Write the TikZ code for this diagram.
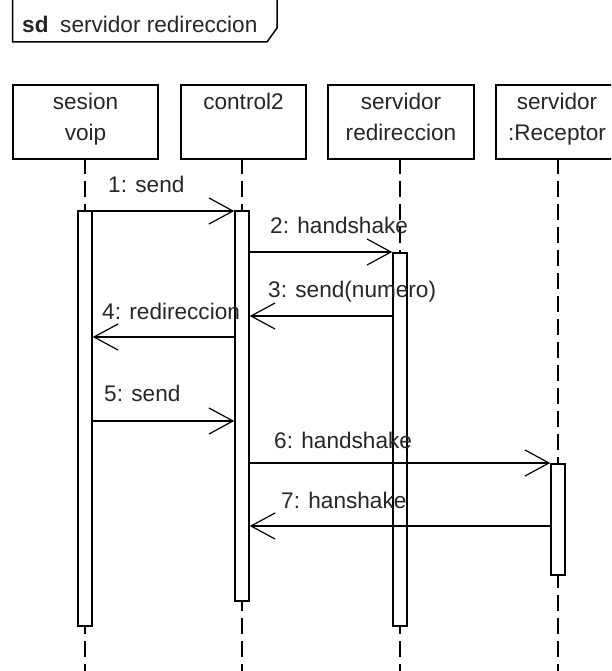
\documentclass[tikz,border=0pt]{standalone}
\usepackage{fontspec}
\setmainfont{Liberation Sans}
\usetikzlibrary{arrows.meta}
\begin{document}
\begin{tikzpicture}[x=1pt,y=-1pt,
  every node/.style={font=\fontsize{22.6}{26}\selectfont, inner sep=0pt, text=black!85},
  head/.style={draw, line width=1.6pt, minimum height=74pt, anchor=north},
  bar/.style={draw, fill=white, line width=1.5pt, minimum width=14pt, anchor=north},
  life/.style={line width=1.5pt, dash pattern=on 16pt off 7pt},
  msg/.style={line width=1.2pt, -{Straight Barb[length=24pt,width=26pt,line width=1.2pt]}},
  lbl/.style={anchor=base west},
  hl/.style={anchor=base}]
\useasboundingbox (0,0) rectangle (611,671);
\clip (0,0) rectangle (611,671);

% frame label
\draw[line width=1.5pt] (12.5,-5) -- (12.5,42) -- (267,42) -- (277,28) -- (277,-5);
\node[lbl, font=\fontsize{22.6}{26}\selectfont\bfseries] (sd) at (22,33) {sd};
\node[lbl] (sdname) at (60,33) {servidor redireccion};

% lifeline heads
\node[head, minimum width=145pt] (h1) at (85.5,84) {};
\node[head, minimum width=125pt] (h2) at (243.5,84) {};
\node[head, minimum width=146pt] (h3) at (401,84) {};
\node[head, minimum width=124pt] (h4) at (558,84) {};
\node[hl] (h1a) at (85.5,110) {sesion};
\node[hl] (h1b) at (85.5,141) {voip};
\node[hl] (h2a) at (243.5,110) {control2};
\node[hl] (h3a) at (401,110) {servidor};
\node[hl] (h3b) at (401,141) {redireccion};
\node[hl] (h4a) at (557,110) {servidor};
\node[hl] (h4b) at (557,141) {:Receptor};

% lifelines
\draw[life] (85,158) -- (85,690);
\draw[life] (242,158) -- (242,690);
\draw[life] (400,158) -- (400,690);
\draw[life] (558,158) -- (558,690);

% activation bars
\node[bar, minimum height=415pt] (b1) at (85,210) {};
\node[bar, minimum height=390pt] (b2) at (242,210) {};
\node[bar, minimum height=373pt] (b3) at (400,252) {};
\node[bar, minimum height=111pt] (b4) at (558,463) {};

% messages
\draw[msg] (b1.east |- 0,211) -- (b2.west |- 0,211);
\draw[msg] (b2.east |- 0,252) -- (b3.west |- 0,252);
\draw[msg] (b3.west |- 0,316) -- (b2.east |- 0,316);
\draw[msg] (b2.west |- 0,337) -- (b1.east |- 0,337);
\draw[msg] (b1.east |- 0,421) -- (b2.west |- 0,421);
\draw[msg] (b2.east |- 0,463) -- (b4.west |- 0,463);
\draw[msg] (b4.west |- 0,526) -- (b2.east |- 0,526);

% message labels
\node[lbl] (m1) at (108,193) {1: send};
\node[lbl] (m2) at (270,233) {2: handshake};
\node[lbl] (m3) at (268,297) {3: send(numero)};
\node[lbl] (m4) at (102,319) {4: redireccion};
\node[lbl] (m5) at (104,401) {5: send};
\node[lbl] (m6) at (274,448) {6: handshake};
\node[lbl] (m7) at (281,508) {7: hanshake};
\end{tikzpicture}
\end{document}
